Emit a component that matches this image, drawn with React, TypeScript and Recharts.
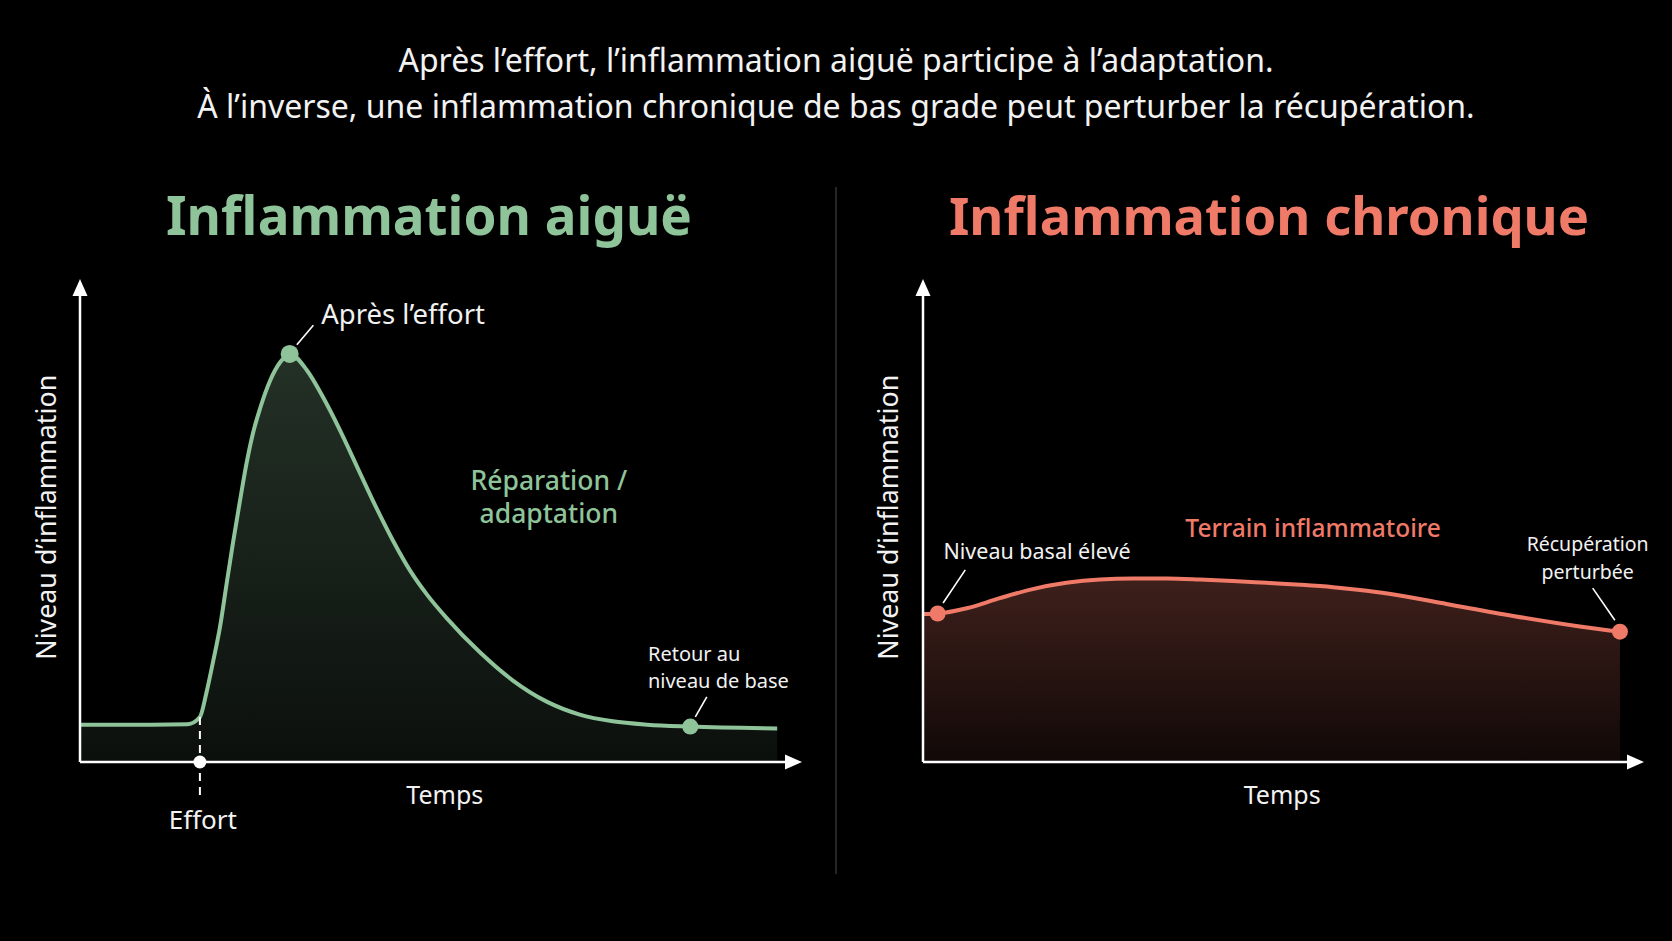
import React from 'react';
import {
  AreaChart,
  Area,
  XAxis,
  YAxis,
  ReferenceDot,
  ReferenceLine,
} from 'recharts';

// acute curve: time (0-100) vs inflammation level (0-100)
const acuteTime = [0, 10, 15, 16.7, 17.6, 18.5, 19.5, 20.4, 21.3, 22.3, 23.2, 24.1, 25.1, 26.5, 27.9, 29.2, 31.6, 33.8, 36.2, 39.0, 41.3, 43.6, 46.0, 48.3, 51.1, 55.7, 60.3, 65.0, 69.6, 74.2, 79.0, 85.0, 97.1];
const acuteLevel = [7.8, 7.8, 7.9, 9.4, 14.4, 20.7, 28.2, 37.0, 45.7, 54.7, 62.4, 68.7, 73.9, 79.7, 83.5, 85.2, 81.8, 76.3, 69.3, 60.3, 53.0, 46.2, 39.9, 35.0, 30.0, 22.9, 17.0, 12.6, 9.9, 8.5, 7.8, 7.4, 7.0];

// chronic curve
const chronicTime = [0, 2.05, 6.1, 10.7, 15.3, 20.0, 24.7, 29.3, 34.0, 38.6, 43.2, 47.9, 52.6, 57.2, 61.9, 66.5, 73.0, 82.3, 91.6, 97.2];
const chronicLevel = [30.9, 31.0, 32.1, 34.2, 36.1, 37.4, 38.1, 38.3, 38.3, 38.1, 37.8, 37.4, 37.0, 36.5, 35.75, 34.75, 33.0, 30.5, 28.3, 27.2];

// index of marked points
const EFFORT = 3;
const PEAK = 15;
const BACK = 31;
const CHRONIC_START = 1;
const CHRONIC_END = chronicTime.length - 1;

const headline = [
  'Après l’effort, l’inflammation aiguë participe à l’adaptation.',
  'À l’inverse, une inflammation chronique de bas grade peut perturber la récupération.',
];

const FONT = '"Noto Sans", "Open Sans", sans-serif';
const GREEN = '#8fc49a';
const SALMON = '#f07a68';
const WHITE = '#f2f2f2';

const acuteData = acuteTime.map((t, i) => ({ t, v: acuteLevel[i] }));
const chronicData = chronicTime.map((t, i) => ({ t, v: chronicLevel[i] }));

const Note = ({ cx, cy, lines, size = 20, color = WHITE, anchor = 'middle', weight = 400, lh = 1.35, rotate = 0 }: any) => {
  const offset = ((lines.length - 1) * size * lh) / 2;
  return (
    <text
      x={cx}
      y={cy - offset}
      textAnchor={anchor}
      dominantBaseline="central"
      fill={color}
      fontSize={size}
      fontWeight={weight}
      fontFamily={FONT}
      transform={rotate ? `rotate(${rotate} ${cx} ${cy})` : undefined}
    >
      {lines.map((l: string, i: number) => (
        <tspan key={i} x={cx} dy={i === 0 ? 0 : size * lh}>
          {l}
        </tspan>
      ))}
    </text>
  );
};

const UpArrow = ({ cx, cy }: any) => (
  <path d={`M${cx},${cy - 4} L${cx - 7.5},${cy + 13} L${cx + 7.5},${cy + 13} Z`} fill="#fff" />
);
const RightArrow = ({ cx, cy }: any) => (
  <path d={`M${cx + 4},${cy} L${cx - 13},${cy - 7.5} L${cx - 13},${cy + 7.5} Z`} fill="#fff" />
);

const axisProps = {
  type: 'number' as const,
  domain: [0, 100],
  hide: true,
  allowDataOverflow: true,
};

const label = (x: number, y: number, props: any) => (
  <ReferenceDot
    x={x}
    y={y}
    r={0}
    ifOverflow="visible"
    shape={(p: any) => <Note cx={p.cx} cy={p.cy} {...props} />}
  />
);

const leader = (x1: number, y1: number, x2: number, y2: number) => (
  <ReferenceLine
    segment={[{ x: x1, y: y1 }, { x: x2, y: y2 }]}
    stroke="#fff"
    strokeWidth={1.6}
    ifOverflow="visible"
  />
);

// axis lines with arrow heads
const axes = () => [
  <ReferenceLine key="ax" segment={[{ x: 0, y: 0 }, { x: 100, y: 0 }]} stroke="#fff" strokeWidth={2.5} ifOverflow="visible" />,
  <ReferenceLine key="ay" segment={[{ x: 0, y: 0 }, { x: 0, y: 100 }]} stroke="#fff" strokeWidth={2.5} ifOverflow="visible" />,
  <ReferenceDot key="aup" x={0} y={100} r={0} ifOverflow="visible" shape={(p: any) => <UpArrow {...p} />} />,
  <ReferenceDot key="art" x={100} y={0} r={0} ifOverflow="visible" shape={(p: any) => <RightArrow {...p} />} />,
];

function AcuteChart() {
  return (
    <AreaChart width={836} height={620} data={acuteData} margin={{ top: 33, right: 38, bottom: 108, left: 80 }}>
      <defs>
        <linearGradient id="gGreen" x1="0" y1="0" x2="0" y2="1">
          <stop offset="0%" stopColor={GREEN} stopOpacity={0.25} />
          <stop offset="100%" stopColor={GREEN} stopOpacity={0.08} />
        </linearGradient>
      </defs>
      <XAxis dataKey="t" {...axisProps} />
      <YAxis {...axisProps} />
      <Area
        type="monotone"
        dataKey="v"
        stroke={GREEN}
        strokeWidth={4}
        fill="url(#gGreen)"
        fillOpacity={1}
        dot={false}
        activeDot={false}
        isAnimationActive={false}
      />
      {axes()}
      <ReferenceLine
        segment={[{ x: acuteTime[EFFORT], y: acuteLevel[EFFORT] }, { x: acuteTime[EFFORT], y: -7.9 }]}
        stroke="#fff"
        strokeWidth={2}
        strokeDasharray="8 6"
        ifOverflow="visible"
      />
      <ReferenceDot x={acuteTime[EFFORT]} y={0} r={6.5} fill="#fff" stroke="none" ifOverflow="visible" />
      <ReferenceDot x={acuteTime[PEAK]} y={acuteLevel[PEAK]} r={9} fill={GREEN} stroke="none" ifOverflow="visible" />
      <ReferenceDot x={acuteTime[BACK]} y={acuteLevel[BACK]} r={8} fill={GREEN} stroke="none" ifOverflow="visible" />
      {leader(30.2, 87.1, 32.5, 91.2)}
      {leader(85.7, 9.4, 87.3, 13.6)}
      {label(45.0, 93.7, { lines: ['Après l’effort'], size: 27.5 })}
      {label(65.3, 55.45, { lines: ['Réparation /', 'adaptation'], size: 26.5, color: GREEN, weight: 500, lh: 1.26 })}
      {label(79.1, 19.95, { lines: ['Retour au', 'niveau de base'], size: 20, anchor: 'start', lh: 1.35 })}
      {label(50.8, -6.7, { lines: ['Temps'], size: 25 })}
      {label(17.1, -11.9, { lines: ['Effort'], size: 26 })}
      {label(-4.9, 51.1, { lines: ['Niveau d’inflammation'], size: 26.8, rotate: -90 })}
    </AreaChart>
  );
}

function ChronicChart() {
  return (
    <AreaChart width={836} height={620} data={chronicData} margin={{ top: 33, right: 32, bottom: 108, left: 87 }}>
      <defs>
        <linearGradient id="gSalmon" x1="0" y1="0" x2="0" y2="1">
          <stop offset="0%" stopColor={SALMON} stopOpacity={0.26} />
          <stop offset="100%" stopColor={SALMON} stopOpacity={0.07} />
        </linearGradient>
      </defs>
      <XAxis dataKey="t" {...axisProps} />
      <YAxis {...axisProps} />
      <Area
        type="monotone"
        dataKey="v"
        stroke={SALMON}
        strokeWidth={4}
        fill="url(#gSalmon)"
        fillOpacity={1}
        dot={false}
        activeDot={false}
        isAnimationActive={false}
      />
      {axes()}
      <ReferenceDot x={chronicTime[CHRONIC_START]} y={chronicLevel[CHRONIC_START]} r={8} fill={SALMON} stroke="none" ifOverflow="visible" />
      <ReferenceDot x={chronicTime[CHRONIC_END]} y={chronicLevel[CHRONIC_END]} r={8} fill={SALMON} stroke="none" ifOverflow="visible" />
      {leader(2.8, 33.2, 5.9, 40.1)}
      {leader(93.4, 36.3, 96.5, 29.6)}
      {label(15.9, 44.3, { lines: ['Niveau basal élevé'], size: 21.5 })}
      {label(54.4, 49.1, { lines: ['Terrain inflammatoire'], size: 24.5, color: SALMON, weight: 500 })}
      {label(92.7, 42.8, { lines: ['Récupération', 'perturbée'], size: 19.5, lh: 1.4 })}
      {label(50.1, -6.7, { lines: ['Temps'], size: 25 })}
      {label(-5.0, 51.1, { lines: ['Niveau d’inflammation'], size: 26.8, rotate: -90 })}
    </AreaChart>
  );
}

export default function App() {
  return (
    <div style={{ position: 'absolute', left: 0, top: 0, width: 1672, height: 941, background: '#000', overflow: 'hidden', fontFamily: FONT }}>
      {headline.map((line, i) => (
        <div
          key={i}
          style={{ position: 'absolute', left: 0, width: 1672, top: 40 + i * 46, textAlign: 'center', color: WHITE, fontSize: 32, lineHeight: '40px' }}
        >
          {line}
        </div>
      ))}
      <div style={{ position: 'absolute', left: 0, width: 858, top: 179, textAlign: 'center', color: GREEN, fontSize: 53, fontWeight: 700, lineHeight: '72px' }}>
        Inflammation aiguë
      </div>
      <div style={{ position: 'absolute', left: 836, width: 866, top: 179, textAlign: 'center', color: SALMON, fontSize: 52.5, fontWeight: 700, lineHeight: '72px' }}>
        Inflammation chronique
      </div>
      <div style={{ position: 'absolute', left: 835, top: 187, width: 1.5, height: 687, background: '#262626' }} />
      <div style={{ position: 'absolute', left: 0, top: 250 }}>
        <AcuteChart />
      </div>
      <div style={{ position: 'absolute', left: 836, top: 250 }}>
        <ChronicChart />
      </div>
    </div>
  );
}
